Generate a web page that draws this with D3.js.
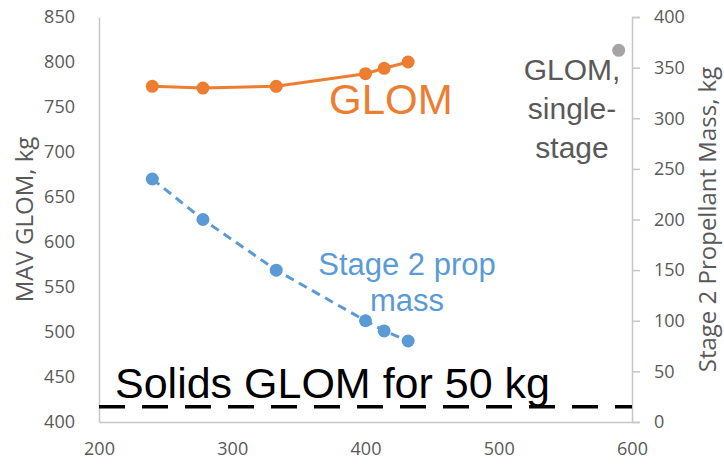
<!DOCTYPE html>
<html><head><meta charset="utf-8">
<script src="https://cdn.jsdelivr.net/npm/d3@7"></script>
<style>
html,body{margin:0;padding:0;background:#fff;}
svg{display:block;}
</style>
</head><body>
<svg id="c" width="724" height="464"></svg>
<script>
// Data
const xValues = [240, 278, 333, 400, 414, 432];
const glomValues = [773, 771, 773, 787, 793, 800];          // left axis (MAV GLOM, kg)
const stage2PropValues = [240, 200, 150, 100, 90, 80];      // right axis (Stage 2 Propellant Mass, kg)
const singleStageX = [590];
const singleStageGlom = [813];
const solidsGlom = 417;
const xTicks = [200, 300, 400, 500, 600];
const leftTicks = [400, 450, 500, 550, 600, 650, 700, 750, 800, 850];
const rightTicks = [0, 50, 100, 150, 200, 250, 300, 350, 400];

const svg = d3.select("#c");
const L = 99, R = 632, T = 17, B = 422;
const x = d3.scaleLinear().domain([200, 600]).range([L, R]);
const yL = d3.scaleLinear().domain([400, 850]).range([B, T]);
const yR = d3.scaleLinear().domain([0, 400]).range([B, T]);

const axisColor = "#c6c6c6", tickText = "#595959";
const tickFont = "'Open Sans', sans-serif";

// Left axis
const gL = svg.append("g").attr("transform", `translate(${L},0)`)
  .call(d3.axisLeft(yL).tickValues(leftTicks).tickSize(0).tickPadding(24));
// Right axis
const gR = svg.append("g").attr("transform", `translate(${R},0)`)
  .call(d3.axisRight(yR).tickValues(rightTicks).tickSize(8).tickPadding(14));
// Bottom axis
const gB = svg.append("g").attr("transform", `translate(0,${B})`)
  .call(d3.axisBottom(x).tickValues(xTicks).tickSize(0).tickPadding(20));

[gL, gR, gB].forEach(g => {
  g.select(".domain").attr("stroke", axisColor).attr("stroke-width", 1.5);
  g.selectAll(".tick line").attr("stroke", axisColor).attr("stroke-width", 1.5);
  g.selectAll(".tick text").attr("fill", tickText).attr("font-family", tickFont).attr("font-size", 18);
});
gB.selectAll(".tick text").attr("dy", "0.71em");

// Axis titles
svg.append("text").attr("transform", `translate(33,${(T + B) / 2}) rotate(-90)`)
  .attr("text-anchor", "middle").attr("fill", tickText)
  .attr("font-family", tickFont).attr("font-size", 24).text("MAV GLOM, kg");
svg.append("text").attr("transform", `translate(716,${(T + B) / 2}) rotate(-90)`)
  .attr("text-anchor", "middle").attr("fill", tickText)
  .attr("font-family", tickFont).attr("font-size", 24).text("Stage 2 Propellant Mass, kg");

// Solids dashed line
svg.append("line")
  .attr("x1", x(200)).attr("x2", x(600))
  .attr("y1", yL(solidsGlom)).attr("y2", yL(solidsGlom))
  .attr("stroke", "#000").attr("stroke-width", 3.5).attr("stroke-dasharray", "26,17");

// GLOM series
const orange = "#ED7D31", blue = "#5B9BD5", gray = "#A5A5A5";
const glomData = xValues.map((v, i) => [v, glomValues[i]]);
svg.append("path").datum(glomData)
  .attr("d", d3.line().x(d => x(d[0])).y(d => yL(d[1])))
  .attr("fill", "none").attr("stroke", orange).attr("stroke-width", 3);
svg.selectAll(".og").data(glomData).enter().append("circle")
  .attr("cx", d => x(d[0])).attr("cy", d => yL(d[1])).attr("r", 6.5).attr("fill", orange);

// Stage 2 prop mass series
const propData = xValues.map((v, i) => [v, stage2PropValues[i]]);
svg.append("path").datum(propData)
  .attr("d", d3.line().x(d => x(d[0])).y(d => yR(d[1])))
  .attr("fill", "none").attr("stroke", blue).attr("stroke-width", 3).attr("stroke-dasharray", "9,6");
svg.selectAll(".bp").data(propData).enter().append("circle")
  .attr("cx", d => x(d[0])).attr("cy", d => yR(d[1])).attr("r", 6.5).attr("fill", blue);

// Single-stage point
svg.selectAll(".gp").data(singleStageX.map((v, i) => [v, singleStageGlom[i]])).enter().append("circle")
  .attr("cx", d => x(d[0])).attr("cy", d => yL(d[1])).attr("r", 6.5).attr("fill", gray);

// Labels
const arial = "'Liberation Sans', Arial, sans-serif";
svg.append("text").attr("x", 329).attr("y", 114).attr("fill", orange)
  .attr("font-family", arial).attr("font-size", 42).text("GLOM");
const bl = svg.append("text").attr("text-anchor", "middle").attr("fill", blue)
  .attr("font-family", arial).attr("font-size", 31);
bl.append("tspan").attr("x", 407).attr("y", 275).text("Stage 2 prop");
bl.append("tspan").attr("x", 407).attr("y", 311).text("mass");
const gl = svg.append("text").attr("text-anchor", "middle").attr("fill", "#595959")
  .attr("font-family", arial).attr("font-size", 30);
gl.append("tspan").attr("x", 572).attr("y", 80).text("GLOM,");
gl.append("tspan").attr("x", 572).attr("y", 119).text("single-");
gl.append("tspan").attr("x", 572).attr("y", 158).text("stage");
svg.append("text").attr("x", 115).attr("y", 398).attr("fill", "#000")
  .attr("font-family", arial).attr("font-size", 43).text("Solids GLOM for 50 kg");
</script>
</body></html>
